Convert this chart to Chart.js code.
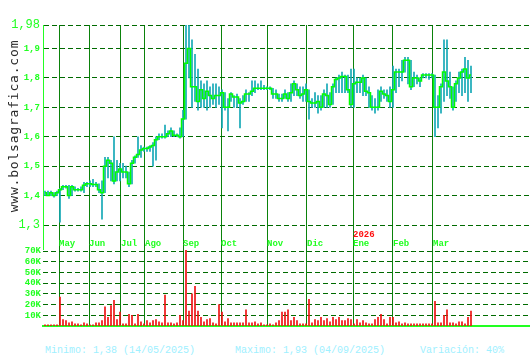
<!DOCTYPE html>
<html lang="es">
<head>
<meta charset="UTF-8">
<title>bolsagrafica</title>
<script src="https://cdn.jsdelivr.net/npm/chart.js"></script>
<style>
  body { margin: 0; background: #fff; }
  #wrap { position: relative; width: 530px; height: 360px; overflow: hidden; }
  #priceChart { position: absolute; left: 0; top: 0; }
  #volChart { position: absolute; left: 0; top: 240px; }
  .foot { position: absolute; top: 346px; font: 10px "Liberation Mono", monospace; color: #a0f0ff; line-height: 10px; white-space: pre; }
  #marca { position: absolute; left: -77px; top: 119px; width: 180px; height: 14px; line-height: 14px; text-align: center;
           font: 13px "DejaVu Sans Mono", monospace; letter-spacing: 0.8px; color: #2a2a2a; transform: rotate(-90deg); }
</style>
</head>
<body>
<div id="wrap">
  <canvas id="priceChart" width="530" height="250"></canvas>
  <canvas id="volChart" width="530" height="90"></canvas>
  <div id="marca">www.bolsagrafica.com</div>
  <div class="foot" style="left:45px">Minimo: 1,38 (14/05/2025)</div>
  <div class="foot" style="left:235px">Maximo: 1,93 (04/09/2025)</div>
  <div class="foot" style="left:420px">Variación: 40%</div>
</div>
<script>
  // una sesion por indice (abr 2025 - mar 2026)
  const closes = [
    1.41, 1.40, 1.41, 1.40, 1.41, 1.42, 1.43, 1.43, 1.40, 1.43,
    1.42, 1.42, 1.42, 1.435, 1.44, 1.44, 1.438, 1.438, 1.42, 1.41,
    1.50, 1.52, 1.51, 1.45, 1.48, 1.49, 1.48, 1.48, 1.44, 1.51,
    1.53, 1.54, 1.555, 1.56, 1.56, 1.565, 1.57, 1.59, 1.60, 1.60,
    1.60, 1.61, 1.62, 1.605, 1.605, 1.60, 1.66, 1.85, 1.90, 1.77,
    1.77, 1.72, 1.76, 1.73, 1.755, 1.74, 1.73, 1.74, 1.74, 1.75,
    1.70, 1.70, 1.745, 1.735, 1.735, 1.715, 1.72, 1.745, 1.745, 1.755,
    1.765, 1.765, 1.765, 1.765, 1.765, 1.765, 1.745, 1.745, 1.73, 1.73,
    1.745, 1.73, 1.75, 1.78, 1.76, 1.74, 1.745, 1.76, 1.72, 1.715,
    1.715, 1.72, 1.70, 1.745, 1.74, 1.71, 1.77, 1.795, 1.80, 1.805,
    1.805, 1.76, 1.71, 1.78, 1.785, 1.785, 1.80, 1.755, 1.75, 1.70,
    1.70, 1.70, 1.755, 1.745, 1.74, 1.72, 1.76, 1.82, 1.82, 1.82,
    1.86, 1.86, 1.77, 1.80, 1.80, 1.79, 1.81, 1.81, 1.81, 1.81,
    1.70, 1.70, 1.77, 1.82, 1.79, 1.77, 1.70, 1.78, 1.80, 1.82,
    1.83, 1.80, 1.81
  ];
  const highs = [
    1.415, 1.415, 1.415, 1.41, 1.415, 1.425, 1.435, 1.435, 1.435, 1.435,
    1.43, 1.425, 1.43, 1.445, 1.445, 1.45, 1.455, 1.445, 1.44, 1.45,
    1.53, 1.53, 1.52, 1.60, 1.52, 1.51, 1.51, 1.50, 1.48, 1.52,
    1.535, 1.60, 1.57, 1.565, 1.565, 1.57, 1.58, 1.60, 1.61, 1.61,
    1.64, 1.62, 1.63, 1.62, 1.61, 1.63, 1.69, 1.98, 1.98, 1.93,
    1.88, 1.83, 1.79, 1.78, 1.79, 1.77, 1.78, 1.78, 1.77, 1.76,
    1.75, 1.73, 1.75, 1.74, 1.745, 1.73, 1.74, 1.76, 1.75, 1.79,
    1.79, 1.78, 1.79, 1.775, 1.77, 1.77, 1.765, 1.76, 1.745, 1.745,
    1.76, 1.75, 1.78, 1.79, 1.78, 1.77, 1.77, 1.78, 1.76, 1.73,
    1.75, 1.74, 1.74, 1.76, 1.78, 1.75, 1.78, 1.80, 1.81, 1.82,
    1.81, 1.81, 1.83, 1.83, 1.80, 1.80, 1.81, 1.80, 1.77, 1.74,
    1.73, 1.76, 1.77, 1.76, 1.76, 1.77, 1.84, 1.83, 1.83, 1.86,
    1.87, 1.87, 1.86, 1.82, 1.81, 1.80, 1.815, 1.815, 1.815, 1.815,
    1.81, 1.74, 1.78, 1.93, 1.93, 1.82, 1.77, 1.79, 1.82, 1.83,
    1.87, 1.86, 1.84
  ];
  const lows = [
    1.40, 1.40, 1.40, 1.395, 1.40, 1.31, 1.42, 1.425, 1.39, 1.40,
    1.415, 1.415, 1.415, 1.41, 1.43, 1.43, 1.43, 1.43, 1.41, 1.32,
    1.41, 1.46, 1.45, 1.44, 1.45, 1.45, 1.46, 1.46, 1.43, 1.44,
    1.51, 1.53, 1.53, 1.55, 1.55, 1.55, 1.50, 1.52, 1.59, 1.595,
    1.595, 1.60, 1.60, 1.60, 1.60, 1.595, 1.60, 1.66, 1.80, 1.70,
    1.72, 1.69, 1.70, 1.70, 1.69, 1.70, 1.71, 1.70, 1.71, 1.63,
    1.69, 1.62, 1.72, 1.70, 1.70, 1.63, 1.71, 1.72, 1.72, 1.74,
    1.75, 1.76, 1.76, 1.76, 1.76, 1.76, 1.73, 1.73, 1.72, 1.72,
    1.73, 1.72, 1.72, 1.74, 1.74, 1.73, 1.72, 1.72, 1.66, 1.70,
    1.70, 1.68, 1.69, 1.70, 1.70, 1.70, 1.71, 1.75, 1.75, 1.75,
    1.75, 1.75, 1.70, 1.70, 1.75, 1.75, 1.74, 1.74, 1.70, 1.69,
    1.68, 1.69, 1.72, 1.73, 1.72, 1.70, 1.70, 1.75, 1.77, 1.79,
    1.82, 1.78, 1.76, 1.77, 1.78, 1.77, 1.80, 1.80, 1.795, 1.80,
    1.60, 1.63, 1.68, 1.72, 1.74, 1.73, 1.69, 1.72, 1.75, 1.74,
    1.75, 1.72, 1.75
  ];
  // volumen en miles
  const vols = [
    1, 1, 1, 1, 1, 27, 6, 5, 3, 4,
    2, 2, 1, 3, 2, 1, 1, 3, 3, 5,
    18, 8, 19, 24, 6, 13, 2, 2, 11, 10,
    2, 11, 4, 2, 5, 3, 5, 6, 4, 3,
    29, 3, 3, 2, 3, 10, 5, 71, 14, 30,
    37, 14, 8, 4, 6, 7, 3, 2, 20, 13,
    4, 7, 3, 3, 3, 3, 3, 15, 3, 3,
    4, 2, 3, 1, 1, 2, 1, 3, 5, 13,
    13, 15, 5, 8, 5, 2, 2, 2, 25, 3,
    6, 5, 8, 5, 7, 4, 8, 6, 8, 5,
    5, 7, 6, 2, 6, 3, 5, 3, 2, 2,
    6, 8, 11, 6, 2, 8, 8, 3, 4, 2,
    3, 2, 2, 2, 2, 2, 2, 2, 2, 2,
    23, 3, 3, 10, 15, 3, 3, 2, 4, 4,
    2, 8, 14
  ];
  const monthNames = ["May", "Jun", "Jul", "Ago", "Sep", "Oct", "Nov", "Dic", "Ene", "Feb", "Mar"];
  const monthStarts = [4.67, 14.67, 25.33, 33.33, 46, 58.67, 74, 87.33, 102.67, 116, 129.33];
  const yearMarks = { "Ene": "2026" };
  const priceTicks = [1.3, 1.4, 1.5, 1.6, 1.7, 1.8, 1.9, 1.98];
  const volTicks = [10, 20, 30, 40, 50, 60, 70];

  const xMin = -0.667, xMax = 161.667;
  const mono = '"Liberation Mono", "DejaVu Sans Mono", monospace';
  const verde = '#22ff22';
  const rejilla = '#006a00';
  const meses = '#0b820b';

  const monthLabels = {
    id: 'monthLabels',
    afterDraw(chart) {
      const xs = chart.scales.x;
      const c = chart.ctx;
      const y = chart.chartArea.bottom - 6;
      c.save();
      c.font = 'bold 9px ' + mono;
      c.textAlign = 'left';
      c.textBaseline = 'middle';
      monthNames.forEach((m, k) => {
        const px = xs.getPixelForValue(monthStarts[k]);
        c.fillStyle = verde;
        c.fillText(m, px, y);
        if (yearMarks[m]) {
          c.fillStyle = '#ff1010';
          c.fillText(yearMarks[m], px, y - 9);
        }
      });
      c.restore();
    }
  };

  // el eje no reserva margen para la primera/ultima etiqueta
  const noPad = s => { s.paddingTop = 0; s.paddingBottom = 0; s.paddingLeft = 0; s.paddingRight = 0; };

  const xAxis = (border) => ({
    type: 'linear', min: xMin, max: xMax, offset: false,
    grid: { color: meses, lineWidth: 1, drawTicks: false, offset: false },
    border: border,
    ticks: { display: false },
    afterBuildTicks: s => { s.ticks = monthStarts.map(v => ({ value: v })); },
    afterFit: s => { s.height = 0; noPad(s); }
  });

  new Chart(document.getElementById('priceChart'), {
    type: 'bar',
    data: {
      datasets: [
        {
          type: 'line',
          data: closes.map((v, i) => ({ x: i, y: v })),
          borderColor: '#00ff00', borderWidth: 1.5, pointRadius: 0,
          stepped: 'middle', order: 0
        },
        {
          type: 'bar',
          data: lows.map((v, i) => ({ x: i, y: [v, highs[i]] })),
          backgroundColor: '#14a8b6', barThickness: 1, order: 1
        }
      ]
    },
    options: {
      responsive: false, animation: false, events: [],
      layout: { autoPadding: false, padding: { top: 25, right: 0, bottom: 0, left: 0 } },
      plugins: { legend: { display: false }, tooltip: { enabled: false } },
      scales: {
        x: xAxis({ display: false }),
        y: {
          min: 1.215, max: 1.98,
          afterBuildTicks: s => { s.ticks = priceTicks.map(v => ({ value: v })); },
          afterFit: s => { s.width = 43; noPad(s); },
          grid: { color: rejilla, lineWidth: 1, drawTicks: false },
          border: { display: true, color: verde, width: 1, dash: [5, 3] },
          ticks: {
            color: verde, padding: 3, autoSkip: false,
            font: c => (c.tick && (c.tick.value === 1.3 || c.tick.value === 1.98))
              ? { family: mono, size: 12, weight: 'normal' }
              : { family: mono, size: 9, weight: 'bold' },
            callback: v => String(v).replace('.', ',')
          }
        }
      }
    },
    plugins: [monthLabels]
  });

  new Chart(document.getElementById('volChart'), {
    type: 'bar',
    data: {
      datasets: [{
        data: vols.map((v, i) => ({ x: i, y: v })),
        backgroundColor: '#ee1111', barThickness: 1
      }]
    },
    options: {
      responsive: false, animation: false, events: [],
      layout: { autoPadding: false, padding: { top: 10, right: 0, bottom: 4, left: 0 } },
      plugins: { legend: { display: false }, tooltip: { enabled: false } },
      scales: {
        x: xAxis({ display: true, color: verde, width: 2 }),
        y: {
          min: 0, max: 71,
          afterBuildTicks: s => { s.ticks = volTicks.map(v => ({ value: v })); },
          afterFit: s => { s.width = 43; noPad(s); },
          grid: { color: rejilla, lineWidth: 1, drawTicks: false },
          border: { display: false, dash: [5, 3] },
          ticks: {
            color: verde, padding: 2, autoSkip: false,
            font: { family: mono, size: 9, weight: 'bold' },
            callback: v => v + 'K'
          }
        }
      }
    }
  });
</script>
</body>
</html>
